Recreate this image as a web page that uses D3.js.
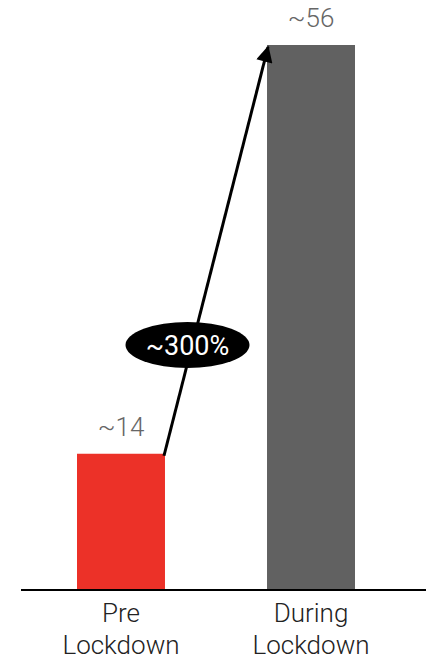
<!DOCTYPE html>
<html>
<head>
<meta charset="utf-8">
<script src="https://cdn.jsdelivr.net/npm/d3@7"></script>
<style>
  html, body { margin: 0; padding: 0; background: #fff; }
  svg { display: block; font-family: Roboto, "Noto Sans", sans-serif; }
</style>
</head>
<body>
<div id="chart"></div>
<script>
// Data
const categories = ["Pre\nLockdown", "During\nLockdown"];
const values = [14, 56];
const valueLabels = ["~14", "~56"];
const barColors = ["#ec3128", "#616161"];
const changeLabel = "~300%";

const W = 426, H = 659;
const baseY = 590;

const svg = d3.select("#chart").append("svg")
  .attr("width", W).attr("height", H);

const x = d3.scaleBand()
  .domain(categories)
  .range([-18, 450])
  .paddingInner(0.537)
  .paddingOuter(0.5);

const y = d3.scaleLinear()
  .domain([0, 56])
  .range([baseY, 45]);

// Bars
svg.selectAll("rect.bar")
  .data(values)
  .join("rect")
  .attr("class", "bar")
  .attr("x", (d, i) => x(categories[i]))
  .attr("y", d => y(d))
  .attr("width", x.bandwidth())
  .attr("height", d => baseY - y(d))
  .attr("fill", (d, i) => barColors[i]);

// Value labels above bars
svg.selectAll("text.val")
  .data(values)
  .join("text")
  .attr("class", "val")
  .attr("x", (d, i) => x(categories[i]) + x.bandwidth() / 2)
  .attr("y", d => y(d) - 18)
  .attr("text-anchor", "middle")
  .attr("font-size", 26)
  .attr("font-weight", 300)
  .attr("fill", "#666")
  .text((d, i) => valueLabels[i]);

// Baseline
svg.append("line")
  .attr("x1", 21).attr("x2", W)
  .attr("y1", baseY).attr("y2", baseY)
  .attr("stroke", "#000").attr("stroke-width", 2);

// Category labels (two lines)
categories.forEach((c, i) => {
  const t = svg.append("text")
    .attr("x", x(c) + x.bandwidth() / 2)
    .attr("y", 622)
    .attr("text-anchor", "middle")
    .attr("font-size", 26)
    .attr("font-weight", 300)
    .attr("fill", "#222");
  c.split("\n").forEach((line, j) => {
    t.append("tspan")
      .attr("x", x(c) + x.bandwidth() / 2)
      .attr("dy", j === 0 ? 0 : 32)
      .text(line);
  });
});

// Arrow from top-right of first bar to top-left of second bar
svg.append("defs").append("marker")
  .attr("id", "arrowhead")
  .attr("viewBox", "0 0 10 10")
  .attr("refX", 9).attr("refY", 5)
  .attr("markerWidth", 5.8).attr("markerHeight", 5.5)
  .attr("markerUnits", "strokeWidth")
  .attr("orient", "auto")
  .append("path")
  .attr("d", "M0,0 L10,5 L0,10 Z")
  .attr("fill", "#000");

const x0 = x(categories[0]) + x.bandwidth(), y0 = y(values[0]) + 2;
const x1 = x(categories[1]) + 1, y1 = y(values[1]) + 2;
svg.append("line")
  .attr("x1", x0 - 1).attr("y1", y0)
  .attr("x2", x1).attr("y2", y1)
  .attr("stroke", "#000")
  .attr("stroke-width", 3)
  .attr("marker-end", "url(#arrowhead)");

// Percent-change badge
const bx = 187.5, by = 345;
svg.append("ellipse")
  .attr("cx", bx).attr("cy", by)
  .attr("rx", 62).attr("ry", 23)
  .attr("fill", "#000");
svg.append("text")
  .attr("x", bx).attr("y", by + 10)
  .attr("text-anchor", "middle")
  .attr("font-size", 27)
  .attr("fill", "#fff")
  .text(changeLabel);
</script>
</body>
</html>
